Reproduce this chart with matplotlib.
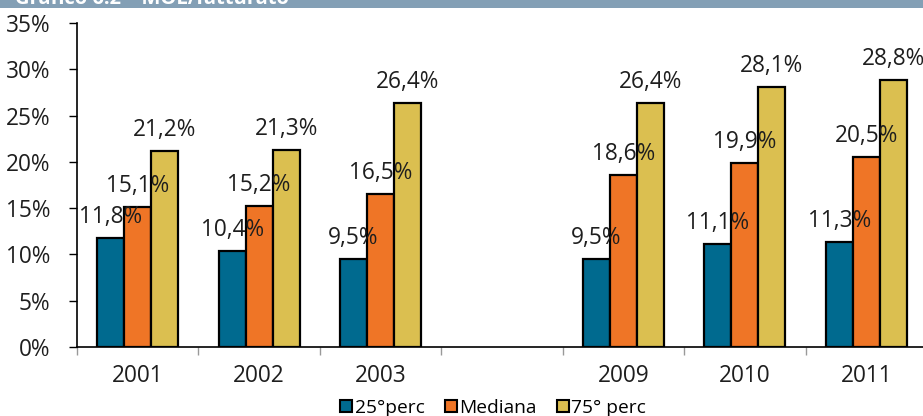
import matplotlib
matplotlib.use("Agg")
import matplotlib.pyplot as plt
from matplotlib.lines import Line2D
from matplotlib.patches import Rectangle
import numpy as np

plt.rcParams['font.family'] = ['Open Sans', 'DejaVu Sans']

years = ["2001", "2002", "2003", "", "2009", "2010", "2011"]
perc25 = [11.8, 10.4, 9.5, None, 9.5, 11.1, 11.3]
mediana = [15.1, 15.2, 16.5, None, 18.6, 19.9, 20.5]
perc75 = [21.2, 21.3, 26.4, None, 26.4, 28.1, 28.8]
series_names = ["25°perc", "Mediana", "75° perc"]
colors = ["#006a8f", "#ef7526", "#dbbf50"]
yticks = [0, 5, 10, 15, 20, 25, 30, 35]

W, H = 923, 416
fig = plt.figure(figsize=(W / 100, H / 100), dpi=100)
ax = fig.add_axes([77 / W, 69 / H, 850 / W, 324 / H])

x = np.arange(len(years))
bw = 0.222
fs = 16.3

for i, (vals, col) in enumerate(zip([perc25, mediana, perc75], colors)):
    off = (i - 1) * bw
    for xi, v in zip(x, vals):
        if v is None:
            continue
        ax.bar(xi + off, v, width=bw, color=col, edgecolor="black", linewidth=1.6, zorder=2)
        ax.annotate(f"{v:.1f}".replace(".", ",") + "%", (xi + off, v),
                    xytext=(0, 15), textcoords="offset pixels",
                    ha="center", va="baseline", fontsize=fs, color="#1e1e1e", zorder=3)

ax.set_xlim(-0.5, len(years) - 0.5)
ax.set_ylim(0, 35)
ax.set_yticks(yticks)
ax.set_yticklabels([f"{t}%" for t in yticks], fontsize=fs, color="#1e1e1e")
ax.tick_params(axis="y", length=6, width=1, pad=13, color="black")

ax.set_xticks(x)
ax.set_xticklabels(years, fontsize=fs, color="#1e1e1e")
ax.set_xticks(np.arange(len(years) + 1) - 0.5, minor=True)
ax.tick_params(axis="x", which="major", length=0, pad=12)
ax.tick_params(axis="x", which="minor", length=6, width=1, color="#999999")

for s in ["top", "right"]:
    ax.spines[s].set_visible(False)
ax.spines["left"].set_linewidth(1.2)
ax.spines["bottom"].set_linewidth(1.2)

handles = [Line2D([], [], linestyle="none", marker="s", markersize=8.5,
                  markerfacecolor=c, markeredgecolor="black", markeredgewidth=1.5)
           for c in colors]
fig.legend(handles, series_names, loc="center", bbox_to_anchor=(493 / W, 8 / H),
           ncol=3, frameon=False, fontsize=13.8, handlelength=0.7, handletextpad=0.1,
           columnspacing=1.0, borderpad=0)

# title band across the top
fig.patches.append(Rectangle((0, 1 - 8 / H), 1, 8 / H, transform=fig.transFigure,
                             facecolor="#839fb5", edgecolor="none", zorder=0))
fig.text(15 / W, 1 - 4 / H, "Grafico 6.2 – MOL/fatturato", color="white",
         fontsize=14.5, fontweight="bold", va="baseline", ha="left")

fig.savefig("out.png", dpi=100)
